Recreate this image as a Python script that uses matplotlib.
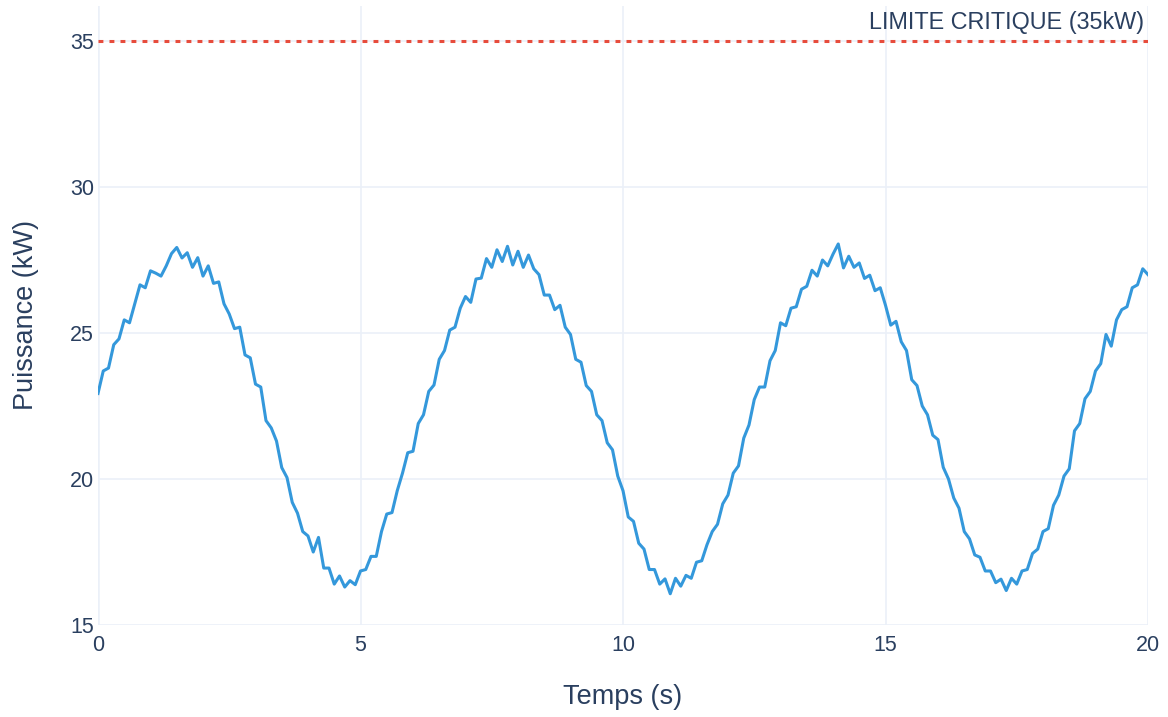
import numpy as np
import matplotlib
matplotlib.use('Agg')
import matplotlib.pyplot as plt

# Puissance relevée toutes les 0.1 s (lecture du graphique)
t_step = 0.1
puissance = [
    22.93, 23.70, 23.80, 24.60, 24.80, 25.45, 25.35, 26.00, 26.65, 26.55,
    27.13, 27.05, 26.95, 27.30, 27.72, 27.93, 27.57, 27.75, 27.25, 27.58,
    26.95, 27.30, 26.70, 26.75, 26.00, 25.65, 25.15, 25.20, 24.25, 24.15,
    23.25, 23.15, 22.00, 21.75, 21.30, 20.39, 20.05, 19.20, 18.83, 18.20,
    18.05, 17.50, 18.00, 16.95, 16.95, 16.40, 16.68, 16.30, 16.52, 16.38,
    16.85, 16.90, 17.35, 17.35, 18.20, 18.80, 18.85, 19.60, 20.20, 20.90,
    20.95, 21.90, 22.20, 23.00, 23.22, 24.10, 24.40, 25.10, 25.20, 25.85,
    26.25, 26.05, 26.85, 26.88, 27.55, 27.25, 27.85, 27.45, 27.97, 27.33,
    27.80, 27.25, 27.67, 27.20, 27.00, 26.30, 26.30, 25.80, 25.95, 25.20,
    24.95, 24.10, 24.00, 23.20, 23.00, 22.20, 22.00, 21.24, 21.00, 20.10,
    19.60, 18.70, 18.55, 17.80, 17.60, 16.90, 16.90, 16.40, 16.58, 16.07,
    16.60, 16.33, 16.70, 16.60, 17.15, 17.20, 17.75, 18.20, 18.45, 19.15,
    19.45, 20.20, 20.45, 21.40, 21.85, 22.72, 23.15, 23.15, 24.05, 24.40,
    25.35, 25.25, 25.85, 25.90, 26.50, 26.60, 27.15, 26.95, 27.50, 27.30,
    27.70, 28.05, 27.23, 27.63, 27.25, 27.40, 26.87, 26.98, 26.45, 26.55,
    25.95, 25.27, 25.40, 24.70, 24.40, 23.40, 23.20, 22.50, 22.20, 21.50,
    21.35, 20.40, 20.00, 19.35, 19.00, 18.20, 17.95, 17.40, 17.32, 16.85,
    16.85, 16.45, 16.57, 16.18, 16.60, 16.40, 16.85, 16.90, 17.45, 17.60,
    18.20, 18.30, 19.10, 19.45, 20.10, 20.35, 21.65, 21.90, 22.75, 23.00,
    23.70, 23.95, 24.95, 24.55, 25.45, 25.80, 25.90, 26.55, 26.65, 27.20,
    27.00,
]
temps = np.arange(len(puissance)) * t_step

limite = 35
limite_label = 'LIMITE CRITIQUE (35kW)'
x_ticks = [0, 5, 10, 15, 20]
y_ticks = [15, 20, 25, 30, 35]

plt.rcParams['font.family'] = ['Liberation Sans', 'DejaVu Sans']
text_color = '#2a3f5f'
grid_color = '#EBF0F8'

fig = plt.figure(figsize=(11.68, 7.17), dpi=100)
ax = fig.add_axes([98 / 1168, 92 / 717, 1050 / 1168, 619 / 717])

ax.plot(temps, puissance, color='#3498db', lw=2.2, solid_joinstyle='round', zorder=3)
ax.axhline(limite, color='#e74c3c', lw=2.2, linestyle=(0, (1.6, 2.0)), zorder=2)
ax.text(20 - 0.07, limite + 0.25, limite_label, ha='right', va='bottom',
        fontsize=16.8, color=text_color)

ax.set_xlim(0, 20)
ax.set_ylim(15, 36.2)
ax.set_xticks(x_ticks)
ax.set_yticks(y_ticks)
ax.grid(True, color=grid_color, lw=1.2, zorder=0)
ax.axvline(0, color=grid_color, lw=1.8, zorder=1)
for s in ax.spines.values():
    s.set_visible(False)
ax.tick_params(length=0, labelsize=15.5, colors=text_color)
ax.tick_params(axis='x', pad=7)
ax.tick_params(axis='y', pad=3)

ax.set_xlabel('Temps (s)', fontsize=19.5, color=text_color, labelpad=20)
ax.set_ylabel('Puissance (kW)', fontsize=19.5, color=text_color, labelpad=22)

fig.savefig('out.png', dpi=100, facecolor='white')
